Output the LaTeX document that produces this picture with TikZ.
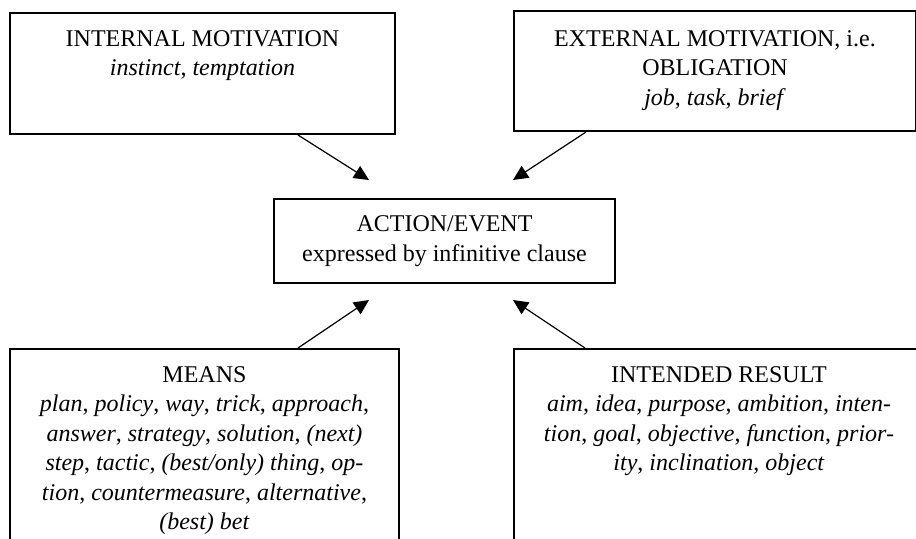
\documentclass[tikz,border=0pt]{standalone}
\usepackage{fontspec}
\setmainfont{Liberation Serif}
\usetikzlibrary{arrows.meta, positioning}

\begin{document}
\begin{tikzpicture}[
  x=0.5pt, y=-0.5pt,
  frame/.style={rectangle, draw, line width=1pt, inner sep=0pt, anchor=north west},
  boxtext/.style={align=center, inner sep=0pt, anchor=north,
    font=\fontsize{12}{14.75}\selectfont},
  arr/.style={-{Triangle[length=7.5pt, width=7pt]}, line width=0.6pt},
]
\path[use as bounding box, clip] (0,0) rectangle (916,538);

% frames
\node[frame, minimum width=192.5pt, minimum height=60.5pt] (intmot) at (9,12) {};
\node[frame, minimum width=201pt, minimum height=60pt] (extmot) at (513,10) {};
\node[frame, minimum width=194.5pt, minimum height=110pt] (means) at (9,348) {};
\node[frame, minimum width=205pt, minimum height=110pt] (result) at (513,348) {};
\node[frame, minimum width=170.5pt, minimum height=42pt, align=center,
  font=\fontsize{12}{14.75}\selectfont] (action) at (273,198)
  {ACTION/EVENT\\expressed by infinitive clause};

% texts
\node[boxtext, below=9pt of intmot.north] (intmot-t)
  {INTERNAL MOTIVATION\\\textit{instinct}, \textit{temptation}};
\node[boxtext, below=10pt of extmot.north] (extmot-t)
  {EXTERNAL MOTIVATION, i.e.\\OBLIGATION\\\textit{job}, \textit{task}, \textit{brief}};
\node[boxtext, below=9pt of means.north] (means-t)
  {MEANS\\
   \textit{plan}, \textit{policy}, \textit{way}, \textit{trick}, \textit{approach},\\
   \textit{answer}, \textit{strategy}, \textit{solution}, \textit{(next)}\\
   \textit{step}, \textit{tactic}, \textit{(best/only) thing}, \textit{op-}\\
   \textit{tion}, \textit{countermeasure}, \textit{alternative},\\
   \textit{(best) bet}};
\node[boxtext, below=9pt of result.north] (result-t)
  {INTENDED RESULT\\
   \textit{aim}, \textit{idea}, \textit{purpose}, \textit{ambition}, \textit{inten-}\\
   \textit{tion}, \textit{goal}, \textit{objective}, \textit{function}, \textit{prior-}\\
   \textit{ity}, \textit{inclination}, \textit{object}};

% arrow tips
\coordinate (tip-int) at (369,180);
\coordinate (tip-ext) at (513,180);
\coordinate (tip-means) at (369,300);
\coordinate (tip-result) at (513,300);

\draw[arr] ([xshift=144.5pt]intmot.south west) -- (tip-int);
\draw[arr] ([xshift=36.5pt]extmot.south west) -- (tip-ext);
\draw[arr] ([xshift=144.5pt]means.north west) -- (tip-means);
\draw[arr] ([xshift=36pt]result.north west) -- (tip-result);

\end{tikzpicture}
\end{document}
